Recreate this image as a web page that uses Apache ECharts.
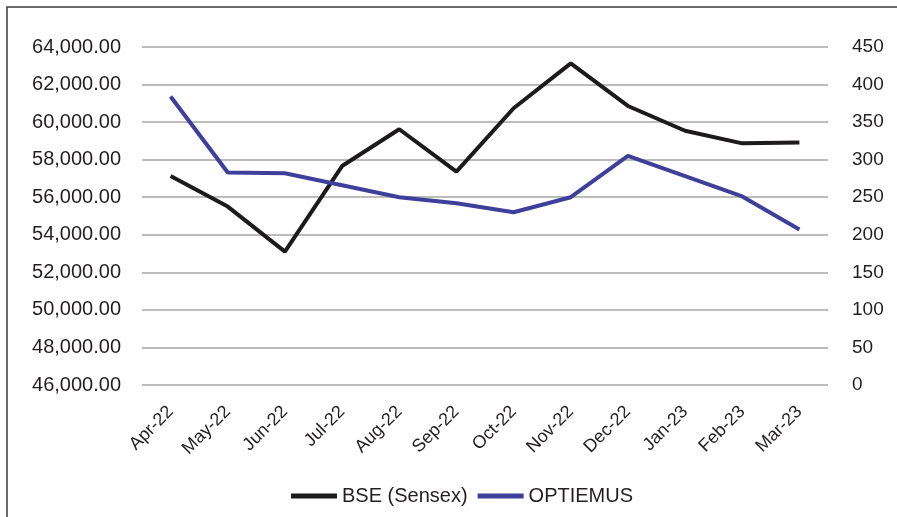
<!DOCTYPE html>
<html>
<head>
<meta charset="utf-8">
<script src="https://cdn.jsdelivr.net/npm/echarts@6/dist/echarts.min.js"></script>
<style>
  html, body { margin: 0; padding: 0; background: #fff; }
  #chart { width: 897px; height: 517px; }
</style>
</head>
<body>
<div id="chart"></div>
<script>
// months
var months = ["Apr-22", "May-22", "Jun-22", "Jul-22", "Aug-22", "Sep-22", "Oct-22", "Nov-22", "Dec-22", "Jan-23", "Feb-23", "Mar-23"];
// BSE Sensex (left axis)
var sensex = [57130, 55500, 53100, 57660, 59620, 57360, 60740, 63130, 60860, 59540, 58870, 58920];
// OPTIEMUS (right axis)
var optiemus = [384, 283, 282, 266, 250, 242, 230, 250, 305, 278, 251, 207];

var chart = echarts.init(document.getElementById("chart"));

var textColor = "#231f20";
var gridColor = "#a6a6a6";

var option = {
  animation: false,
  backgroundColor: "#fff",
  textStyle: { fontFamily: "Liberation Sans, Arial, sans-serif" },
  graphic: [
    {
      type: "rect",
      shape: { x: 7, y: 7, width: 1000, height: 1000 },
      style: { fill: null, stroke: "#3a3a3a", lineWidth: 1.5 },
      silent: true,
    },
  ],
  grid: {
    left: 142,
    right: 69,
    top: 47,
    bottom: 132,
    containLabel: false,
  },
  legend: {
    bottom: 6,
    left: 286,
    icon: "rect",
    itemWidth: 46,
    itemHeight: 5,
    itemGap: 10,
    textStyle: { color: textColor, fontSize: 20, fontFamily: "Liberation Sans, Arial, sans-serif" },
    data: ["BSE (Sensex)", "OPTIEMUS"],
  },
  xAxis: {
    type: "category",
    data: months,
    boundaryGap: true,
    axisLine: { show: false },
    axisTick: { show: false },
    axisLabel: {
      rotate: 45,
      interval: 0,
      margin: 24,
      color: textColor,
      fontSize: 18,
    },
  },
  yAxis: [
    {
      type: "value",
      min: 46000,
      max: 64000,
      interval: 2000,
      axisLine: { show: false },
      axisTick: { show: false },
      axisLabel: {
        margin: 21,
        color: textColor,
        fontSize: 20,
        formatter: function (v) {
          return v.toLocaleString("en-US", { minimumFractionDigits: 2, maximumFractionDigits: 2 });
        },
      },
      splitLine: { show: true, lineStyle: { color: gridColor, width: 1.5 } },
    },
    {
      type: "value",
      min: 0,
      max: 450,
      interval: 50,
      position: "right",
      axisLine: { show: false },
      axisTick: { show: false },
      axisLabel: { margin: 24, color: textColor, fontSize: 19 },
      splitLine: { show: false },
    },
  ],
  series: [
    {
      name: "BSE (Sensex)",
      type: "line",
      yAxisIndex: 0,
      data: sensex,
      symbol: "none",
      itemStyle: { color: "#1c1a1b" },
      lineStyle: { color: "#1c1a1b", width: 4 },
    },
    {
      name: "OPTIEMUS",
      type: "line",
      yAxisIndex: 1,
      data: optiemus,
      symbol: "none",
      itemStyle: { color: "#3e3f9a" },
      lineStyle: { color: "#3e3f9a", width: 4 },
    },
  ],
};

chart.setOption(option);
window.addEventListener("resize", function () {
  chart.resize();
});
</script>
</body>
</html>
